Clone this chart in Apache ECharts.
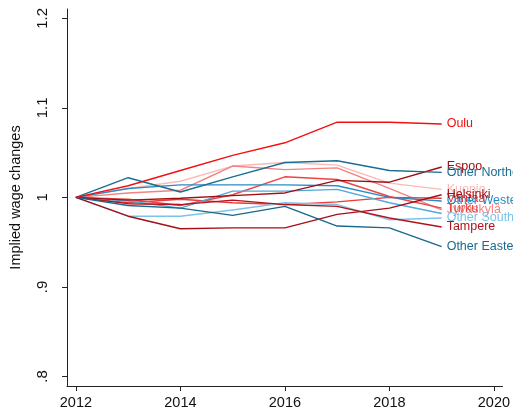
<!DOCTYPE html>
<html>
<head>
<meta charset="utf-8">
<script src="https://cdn.jsdelivr.net/npm/echarts@6/dist/echarts.min.js"></script>
<style>html,body{margin:0;padding:0;background:#fff}#c{width:513px;height:415px}</style>
</head>
<body>
<div id="c"></div>
<script>
var years = [2012, 2013, 2014, 2015, 2016, 2017, 2018, 2019];
var xTicks = [2012, 2014, 2016, 2018, 2020];
var yTicks = [0.8, 0.9, 1.0, 1.1, 1.2];
var yTickLabels = ['.8', '.9', '1', '1.1', '1.2'];

var oulu          = [1, 1.013, 1.030, 1.047, 1.061, 1.084, 1.084, 1.082];
var espoo         = [1, 0.997, 0.999, 1.002, 1.005, 1.019, 1.017, 1.034];
var otherNorthern = [1, 1.022, 1.006, 1.023, 1.039, 1.041, 1.030, 1.028];
var kuopio        = [1, 1.010, 1.018, 1.035, 1.039, 1.036, 1.016, 1.009];
var helsinki      = [1, 0.979, 0.965, 0.966, 0.966, 0.981, 0.988, 1.003];
var vantaa        = [1, 0.994, 0.998, 0.994, 0.992, 0.995, 1.000, 0.999];
var otherWestern  = [1, 1.010, 1.014, 1.014, 1.014, 1.013, 1.000, 0.996];
var turku         = [1, 0.998, 0.991, 1.003, 1.023, 1.020, 1.001, 0.988];
var jyvaskyla     = [1, 1.005, 1.008, 1.035, 1.031, 1.033, 1.010, 0.986];
var otherSouthern = [1, 0.979, 0.979, 0.986, 0.994, 0.992, 0.975, 0.977];
var otherSouth2   = [1, 0.996, 0.988, 1.007, 1.007, 1.009, 0.994, 0.982];
var tampere       = [1, 0.993, 0.992, 0.997, 0.992, 0.990, 0.977, 0.967];
var otherEastern  = [1, 0.991, 0.988, 0.980, 0.990, 0.968, 0.966, 0.945];

var seriesDefs = [
  {name: 'Kuopio', data: kuopio, color: '#fdb8b8', label: true},
  {name: 'Jyväskylä', data: jyvaskyla, color: '#f58282', label: true},
  {name: 'Vantaa', data: vantaa, color: '#e83a3a', label: true},
  {name: 'Turku', data: turku, color: '#ee4444', label: true},
  {name: 'Other Southern', data: otherSouthern, color: '#7cc4e6', label: true},
  {name: 'Other Southern ', data: otherSouth2, color: '#4fabd8', label: false},
  {name: 'Other Western', data: otherWestern, color: '#2a8cc4', label: true},
  {name: 'Helsinki', data: helsinki, color: '#a50f15', label: true},
  {name: 'Tampere', data: tampere, color: '#b0141c', label: true},
  {name: 'Espoo', data: espoo, color: '#a00d12', label: true},
  {name: 'Other Eastern', data: otherEastern, color: '#17698e', label: true},
  {name: 'Other Northern', data: otherNorthern, color: '#1a6e92', label: true},
  {name: 'Oulu', data: oulu, color: '#f21010', label: true}
];

var FONT = '"Liberation Sans", Arial, Helvetica, sans-serif';

var series = seriesDefs.map(function (s) {
  return {
    name: s.name,
    type: 'line',
    data: years.map(function (y, i) { return [y, s.data[i]]; }),
    showSymbol: false,
    symbol: 'none',
    lineStyle: {color: s.color, width: 1.4},
    itemStyle: {color: s.color},
    emphasis: {disabled: true},
    animation: false,
    endLabel: {
      show: s.label,
      formatter: s.name,
      color: s.color,
      fontSize: 12.5,
      fontFamily: FONT,
      distance: 5
    }
  };
});

var chart = echarts.init(document.getElementById('c'), null, {renderer: 'canvas'});
chart.setOption({
  animation: false,
  backgroundColor: '#ffffff',
  grid: {left: 65, right: 9, top: 9, bottom: 29},
  xAxis: {
    type: 'value',
    min: 2011.83,
    max: 2020.165,
    splitLine: {show: false},
    axisLine: {show: true, lineStyle: {color: '#222', width: 1}},
    axisTick: {show: true, length: 5, lineStyle: {color: '#222'}, customValues: xTicks},
    axisLabel: {customValues: xTicks, fontSize: 14.5, color: '#111', fontFamily: FONT, margin: 9,
      formatter: function (v) { return String(Math.round(v)); }}
  },
  yAxis: {
    type: 'value',
    min: 0.7894,
    max: 1.2104,
    name: 'Implied wage changes',
    nameLocation: 'middle',
    nameGap: 44,
    nameTextStyle: {fontSize: 14.5, color: '#111', fontFamily: FONT},
    splitLine: {show: false},
    axisLine: {show: true, lineStyle: {color: '#222', width: 1}},
    axisTick: {show: true, length: 5, lineStyle: {color: '#222'}, customValues: yTicks},
    axisLabel: {customValues: yTicks, rotate: 90, fontSize: 15, color: '#111', fontFamily: FONT, margin: 17,
      formatter: function (v) {
        for (var i = 0; i < yTicks.length; i++) { if (Math.abs(v - yTicks[i]) < 1e-6) return yTickLabels[i]; }
        return '';
      }}
  },
  series: series
});
</script>
</body>
</html>
